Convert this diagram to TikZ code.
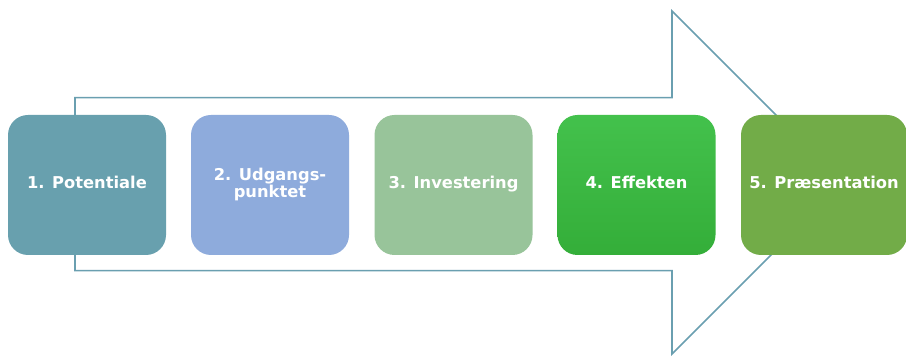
\documentclass[tikz,border=0pt]{standalone}
\usepackage{fontspec}
\setmainfont{DejaVu Sans}
\begin{document}
\begin{tikzpicture}[x=1pt,y=1pt,
  stepbox/.style={rounded corners=20pt, minimum width=158pt, minimum height=140pt,
    inner sep=0pt, text=white, align=center,
    font=\bfseries\fontsize{16.3}{17}\selectfont},
  oneline/.style={text height=11pt, text depth=3pt},
  arrowline/.style={draw=arrowcol, line width=1.6pt, fill=white}]
\definecolor{arrowcol}{HTML}{6A9FB0}
\definecolor{cone}{HTML}{68A0AE}
\definecolor{ctwo}{HTML}{8EABDC}
\definecolor{cthree}{HTML}{98C49A}
\definecolor{cfourtop}{HTML}{43C14C}
\definecolor{cfourbot}{HTML}{34AE39}
\definecolor{cfive}{HTML}{72AC48}
\useasboundingbox (0,0) rectangle (906,356);
% big arrow
\coordinate (a1) at (75,258.3);
\coordinate (a2) at (672,258.3);
\coordinate (a3) at (672,345);
\coordinate (a4) at (843.5,173.5);
\coordinate (a5) at (672,2);
\coordinate (a6) at (672,85.3);
\coordinate (a7) at (75,85.3);
\draw[arrowline] (a1) -- (a2) -- (a3) -- (a4) -- (a5) -- (a6) -- (a7) -- cycle;
% steps
\node[stepbox, oneline, fill=cone] (s1) at (87,171) {1. Potentiale};
\node[stepbox, fill=ctwo] (s2) at (270,171) {2. Udgangs-\\punktet};
\node[stepbox, oneline, fill=cthree] (s3) at (453.5,171) {3. Investering};
\node[stepbox, oneline, top color=cfourtop, bottom color=cfourbot] (s4) at (636.5,171) {4. Effekten};
\node[stepbox, oneline, fill=cfive, minimum width=166pt] (s5) at (824,171) {5. Præsentation};
\end{tikzpicture}
\end{document}
